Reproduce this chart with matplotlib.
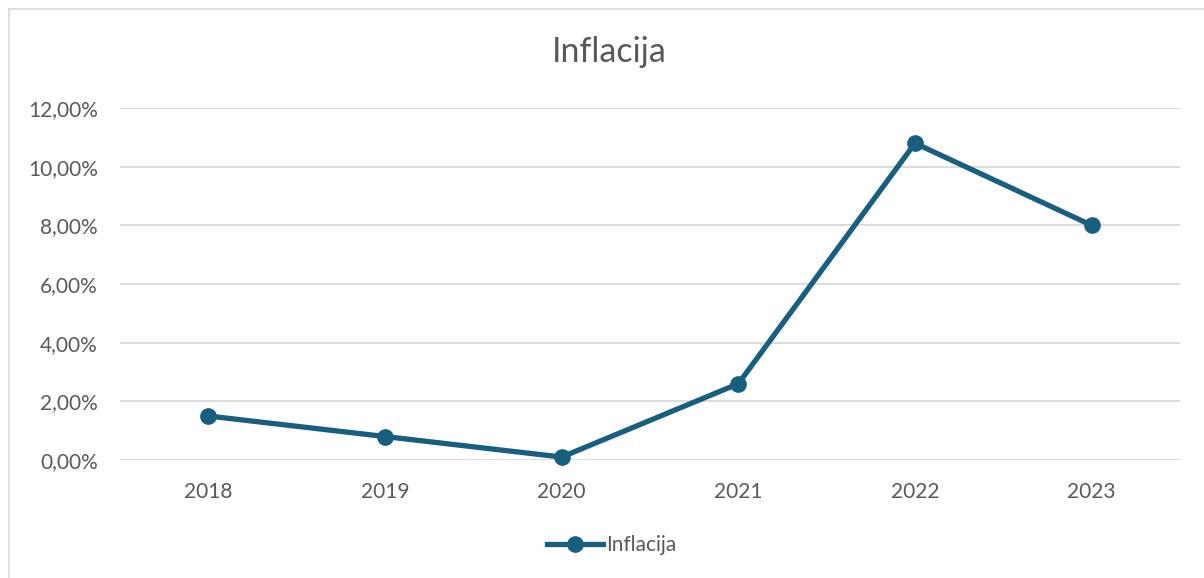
import numpy as np
import matplotlib
matplotlib.use("Agg")
import matplotlib.pyplot as plt
from matplotlib.ticker import FuncFormatter
from matplotlib.lines import Line2D

years = ["2018", "2019", "2020", "2021", "2022", "2023"]
inflation = [1.5, 0.8, 0.1, 2.6, 10.8, 8.0]
y_ticks = [0, 2, 4, 6, 8, 10, 12]

line_color = "#175E7F"
text_color = "#595959"
grid_color = "#D9D9D9"

plt.rcParams["font.family"] = ["Lato", "DejaVu Sans"]

fig = plt.figure(figsize=(12.04, 5.78), dpi=100)
W, H = 1204, 578
ax = fig.add_axes([120 / W, (H - 460) / H, (1180 - 120) / W, (460 - 108) / H])

x = np.arange(len(years))
ax.plot(x, inflation, color=line_color, lw=3.8, marker="o", ms=11,
        solid_capstyle="round", zorder=3, clip_on=False)

ax.set_xlim(-0.5, len(years) - 0.5)
ax.set_ylim(0, 12)
ax.set_yticks(y_ticks)
ax.yaxis.set_major_formatter(FuncFormatter(lambda v, p: f"{v:.2f}%".replace(".", ",")))
ax.set_xticks(x)
ax.set_xticklabels(years)
ax.grid(axis="y", color=grid_color, lw=1.3)
ax.set_axisbelow(True)
for s in ax.spines.values():
    s.set_visible(False)
ax.tick_params(length=0, labelsize=15, colors=text_color)
ax.tick_params(axis="y", pad=16)
ax.tick_params(axis="x", pad=16)

fig.text(609 / W, 1 - 52 / H, "Inflacija", ha="center", va="center",
         fontsize=24.5, color=text_color)

# legend
handle = Line2D([], [], color=line_color, lw=3.8, marker="o", ms=11)
fig.legend([handle], ["Inflacija"], loc="center", bbox_to_anchor=(612 / W, 1 - 545 / H),
           frameon=False, fontsize=15, labelcolor=text_color,
           handlelength=2.7, handletextpad=0.15)

# chart border (left and top visible)
fig.add_artist(Line2D([8.5 / W, 8.5 / W], [0, 1 - 9 / H], color="#D9D9D9", lw=1.2))
fig.add_artist(Line2D([8.5 / W, 1], [1 - 9 / H, 1 - 9 / H], color="#D9D9D9", lw=1.2))

fig.savefig("out.png", dpi=100)
